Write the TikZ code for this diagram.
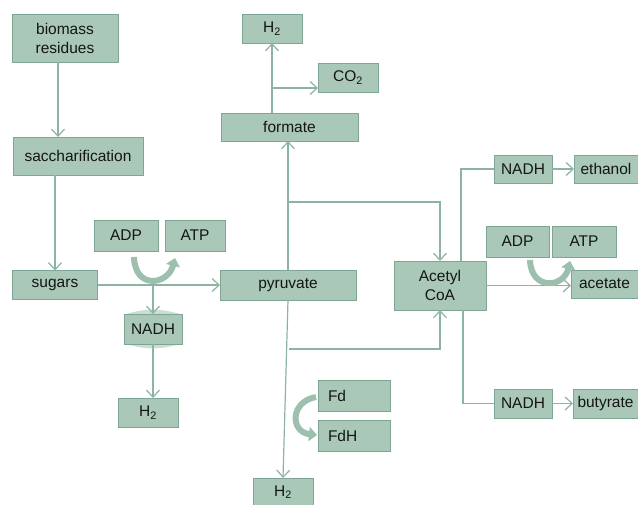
\documentclass[tikz,border=0pt]{standalone}
\usepackage{fontspec}
\setmainfont{Liberation Sans}
\usetikzlibrary{arrows.meta}
\usepackage{xcolor}
\definecolor{boxfill}{HTML}{A9C8B8}
\definecolor{boxline}{HTML}{7FA595}
\definecolor{flowline}{HTML}{8DB3A3}
\definecolor{swirlfill}{HTML}{9DBFAE}
\definecolor{inktext}{HTML}{151515}
\tikzset{
    box/.style={
        draw=boxline,
        fill=boxfill,
        text=inktext,
        inner sep=0pt,
        outer sep=0pt,
        align=center,
        font=\fontsize{15.5}{19}\selectfont
    },
    flow/.style={draw=flowline, line width=1.2pt},
    arr/.style={flow, -{Straight Barb[length=7pt,width=13pt]}},
    swirl/.style={draw=swirlfill, line width=6pt, -{Triangle[length=8pt,width=14pt]}}
}
\newcommand{\cell}[6] {
    \node[box,minimum width=#4pt,minimum height=#5pt] (#1) at (#2, #3) {#6};
}
\begin{document}
\begin{tikzpicture}[x=1pt,y=-1pt]
        \useasboundingbox (0,0) rectangle (638,504);
        \cell{bio}{65}{38}{106}{48}{biomass\\residues}
        \cell{sac}{78}{156}{130}{38}{saccharification}
        \cell{sug}{55}{285}{85}{29}{sugars}
        \cell{adpa}{126}{235.5}{64}{31}{ADP}
        \cell{atpa}{195}{235.5}{60}{31}{ATP}
        \cell{pyr}{288}{285}{136}{30}{pyruvate}
        \fill[boxfill!60] (126,314) to[bend left=16] (180,314) -- cycle;
        \fill[boxfill!60] (126,344) to[bend right=16] (180,344) -- cycle;
        \cell{nadm}{153}{329}{58}{30}{NADH}
        \cell{hl}{148}{412.5}{60}{29}{H\textsubscript{2}}
        \cell{ht}{272}{28.5}{60}{29}{H\textsubscript{2}}
        \cell{co}{348}{77.5}{60}{29}{CO\textsubscript{2}}
        \cell{form}{289.5}{127}{137}{28}{formate}
        \cell{nade}{523}{169}{58}{28}{NADH}
        \cell{eth}{606}{169}{64}{28}{ethanol}
        \cell{adpb}{517.5}{241.5}{63}{31}{ADP}
        \cell{atpb}{584}{241.5}{64}{31}{ATP}
        \cell{aco}{440}{285.5}{92}{49}{Acetyl\\CoA}
        \cell{acet}{604.5}{284}{67}{28}{acetate}
        \cell{nadb}{523}{403.5}{58}{29}{NADH}
        \cell{but}{605.5}{403.5}{65}{29}{butyrate}
        \cell{fd}{354}{395.5}{72}{31}{\makebox[52pt][l]{Fd}}
        \cell{fdh}{354}{435.5}{72}{31}{\makebox[52pt][l]{FdH}}
        \cell{hb}{283}{492}{60}{28}{H\textsubscript{2}}
        \coordinate (fork) at (288,202);
        \coordinate (low) at (289,349);
        \coordinate (split) at (272,88);
        \draw[arr] ([xshift=-7pt]bio.south) -- ([xshift=-7pt]bio.south |- sac.north);
        \draw[arr] (sac.south -| sug.north) -- (sug.north);
        \draw[arr] (sug.east) -- (pyr.west);
        \draw[arr] (sug.east -| nadm.north) -- (nadm.north);
        \draw[arr] (nadm.south) -- (nadm.south |- hl.north);
        \draw[arr] (pyr.north) -- (pyr.north |- form.south);
        \draw[arr] (fork) -| (aco.north);
        \draw[arr] (ht.south |- form.north) -- (ht.south);
        \draw[arr] (split) -- (split -| co.west);
        \draw[arr] (pyr.south) -- (hb.north);
        \draw[arr] (low) -| (aco.south);
        \draw[flow] ([xshift=21pt]aco.north) |- (nade.west);
        \draw[arr] (nade) -- (eth);
        \draw[arr] (aco.east) -- (aco.east -| acet.west);
        \draw[flow] ([xshift=23pt]aco.south) |- (nadb.west);
        \draw[arr] (nadb) -- (but);
        \draw[swirl] ([shift={(8,6)}]adpa.south) .. controls ([shift={(9,39)}]adpa.south) and ([shift={(-27,34)}]atpa.south) .. ([shift={(-20,7)}]atpa.south);
        \draw[swirl] ([shift={(12.5,3)}]adpb.south) .. controls ([shift={(13.5,34)}]adpb.south) and ([shift={(-20,31)}]atpb.south) .. ([shift={(-14,4)}]atpb.south);
        \draw[swirl] ([shift={(-2,1.5)}]fd.west) .. controls ([shift={(-28,6)}]fd.west) and ([shift={(-28,-3.5)}]fdh.west) .. ([shift={(-1,-0.5)}]fdh.west);
    \end{tikzpicture}
\end{document}
